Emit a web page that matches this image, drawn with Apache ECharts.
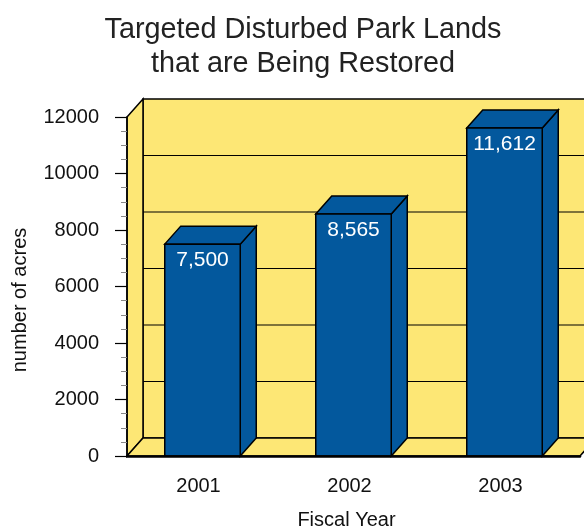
<!DOCTYPE html>
<html>
<head>
<meta charset="utf-8">
<title>Targeted Disturbed Park Lands</title>
<script src="https://cdn.jsdelivr.net/npm/echarts@6/dist/echarts.min.js"></script>
<style>
    html, body { margin: 0; padding: 0; background: #fff; }
    #chart { width: 584px; height: 527px; }
</style>
</head>
<body>
<div id="chart"></div>
<script>
    var years = ['2001', '2002', '2003'];
    var acres = [7500, 8565, 11612];
    var gridValues = [2000, 4000, 6000, 8000, 10000];

    var FONT = "'Liberation Sans', Arial, sans-serif";
    var YELLOW = '#fde775';
    var BLUE = '#03589d';
    var DX = 16, DY = -18; // depth of the 3d box

    var myChart = echarts.init(document.getElementById('chart'));

    // back wall, side wall, floor and the lines on the back wall
    function renderWalls(params, api) {
        var cs = params.coordSys;
        var x0 = cs.x, x1 = cs.x + cs.width;
        var yTop = cs.y, yBot = cs.y + cs.height;
        var line = { stroke: '#000', lineWidth: 1.5, fill: YELLOW };
        var children = [
            { type: 'rect', shape: { x: x0 + DX, y: yTop + DY, width: cs.width, height: cs.height }, style: line },
            { type: 'polygon', shape: { points: [[x0, yTop], [x0 + DX, yTop + DY], [x0 + DX, yBot + DY], [x0, yBot]] }, style: line },
            { type: 'polygon', shape: { points: [[x0, yBot], [x0 + DX, yBot + DY], [x1 + DX, yBot + DY], [x1, yBot]] }, style: line }
        ];
        gridValues.forEach(function (v) {
            var y = api.coord([0, v])[1] + DY;
            children.push({ type: 'line', shape: { x1: x0 + DX, y1: y, x2: x1 + DX, y2: y }, style: { stroke: '#000', lineWidth: 1.2 } });
        });
        return { type: 'group', children: children };
    }

    function renderBar(params, api) {
        var c = api.coord([api.value(0), api.value(1)]);
        var base = api.coord([api.value(0), 0]);
        var w = api.size([1, 0])[0] * 0.5;
        var l = c[0] - w / 2, r = c[0] + w / 2;
        var top = c[1], bot = base[1];
        var edge = { stroke: '#000', lineWidth: 1.5, fill: BLUE };
        return {
            type: 'group',
            children: [
                { type: 'polygon', shape: { points: [[r, top], [r + DX, top + DY], [r + DX, bot + DY], [r, bot]] }, style: edge },
                { type: 'polygon', shape: { points: [[l, top], [l + DX, top + DY], [r + DX, top + DY], [r, top]] }, style: edge },
                { type: 'rect', shape: { x: l, y: top, width: w, height: bot - top }, style: edge },
                {
                    type: 'text',
                    style: {
                        x: c[0], y: top + 16,
                        text: api.value(1).toLocaleString('en-US'),
                        fill: '#fff', font: '21px ' + FONT,
                        align: 'center', verticalAlign: 'middle'
                    }
                }
            ]
        };
    }

    var option = {
        animation: false,
        textStyle: { fontFamily: FONT },
        title: {
            text: 'Targeted Disturbed Park Lands\nthat are Being Restored',
            left: 298,
            textAlign: 'center',
            top: 8,
            textStyle: { fontSize: 28.8, fontWeight: 'normal', color: '#222', lineHeight: 34, fontFamily: FONT }
        },
        grid: { left: 127, right: 4, top: 117, bottom: 71, outerBoundsMode: 'none', containLabel: false },
        xAxis: {
            type: 'category',
            data: years,
            z: 10,
            name: 'Fiscal Year',
            nameLocation: 'middle',
            nameGap: 54,
            nameTextStyle: { fontSize: 20, color: '#111', padding: [0, 14, 0, 0] },
            axisLine: { lineStyle: { color: '#000', width: 2.5 } },
            axisTick: { length: 12, lineStyle: { color: '#444', width: 1.2 } },
            axisLabel: { fontSize: 20, color: '#111', margin: 20, padding: [0, 8, 0, 0] }
        },
        yAxis: {
            type: 'value',
            min: 0,
            max: 12000,
            interval: 2000,
            z: 10,
            name: 'number of acres',
            nameLocation: 'middle',
            nameGap: 97,
            nameTextStyle: { fontSize: 20, color: '#111', padding: [0, 27, 0, 0] },
            axisLine: { show: true, lineStyle: { color: '#000', width: 1.5 } },
            axisTick: { show: true, length: 12, lineStyle: { color: '#000', width: 1.2 } },
            minorTick: { show: true, splitNumber: 4, length: 6, lineStyle: { color: '#888', width: 1 } },
            splitLine: { show: false },
            axisLabel: { fontSize: 20, color: '#111', margin: 28, formatter: function (v) { return String(v); } }
        },
        series: [
            {
                type: 'custom',
                name: 'walls',
                z: 1,
                silent: true,
                renderItem: renderWalls,
                data: [[0, 0]]
            },
            {
                type: 'custom',
                name: 'acres',
                z: 3,
                renderItem: renderBar,
                encode: { x: 0, y: 1 },
                data: acres.map(function (v, i) { return [i, v]; })
            }
        ]
    };
    myChart.setOption(option);
</script>
</body>
</html>
